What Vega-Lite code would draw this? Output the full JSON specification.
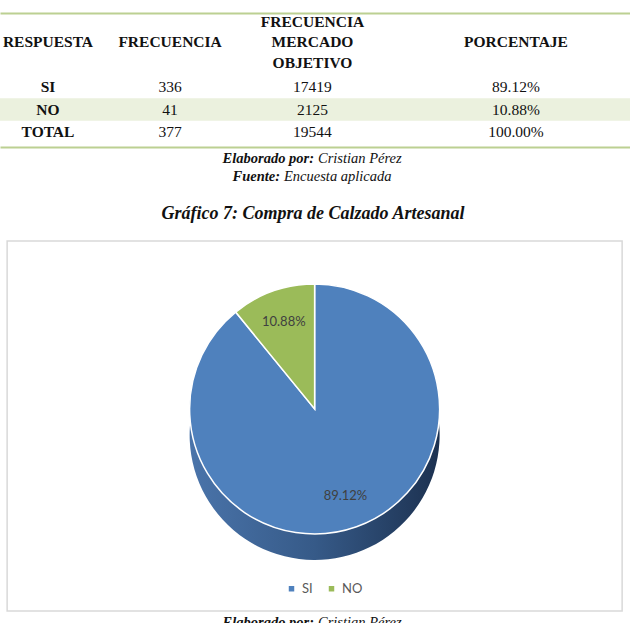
{
  "$schema": "https://vega.github.io/schema/vega-lite/v6.json",
  "background": "white",
  "padding": {"top": 13, "left": 0, "right": 0, "bottom": 0},
  "spacing": 0,
  "center": true,
  "config": {"view": {"stroke": null}, "axis": {"grid": false}},
  "datasets": {
    "tabla": [
      {"fila": "h", "columna": "respuesta", "texto": "RESPUESTA", "negrita": true},
      {"fila": "h", "columna": "frecuencia", "texto": "FRECUENCIA", "negrita": true},
      {"fila": "h", "columna": "mercado", "texto": "FRECUENCIA\nMERCADO\nOBJETIVO", "negrita": true},
      {"fila": "h", "columna": "porcentaje", "texto": "PORCENTAJE", "negrita": true},
      {"fila": "SI", "columna": "respuesta", "texto": "SI", "negrita": true},
      {"fila": "SI", "columna": "frecuencia", "texto": "336", "negrita": false},
      {"fila": "SI", "columna": "mercado", "texto": "17419", "negrita": false},
      {"fila": "SI", "columna": "porcentaje", "texto": "89.12%", "negrita": false},
      {"fila": "NO", "columna": "respuesta", "texto": "NO", "negrita": true},
      {"fila": "NO", "columna": "frecuencia", "texto": "41", "negrita": false},
      {"fila": "NO", "columna": "mercado", "texto": "2125", "negrita": false},
      {"fila": "NO", "columna": "porcentaje", "texto": "10.88%", "negrita": false},
      {"fila": "TOTAL", "columna": "respuesta", "texto": "TOTAL", "negrita": true},
      {"fila": "TOTAL", "columna": "frecuencia", "texto": "377", "negrita": false},
      {"fila": "TOTAL", "columna": "mercado", "texto": "19544", "negrita": false},
      {"fila": "TOTAL", "columna": "porcentaje", "texto": "100.00%", "negrita": false}
    ],
    "franja": [{"fila": "NO"}],
    "notas": [
      {"fila": "l1", "parte": "rotulo", "texto": "Elaborado por:"},
      {"fila": "l1", "parte": "valor", "texto": "Cristian Pérez"},
      {"fila": "l2", "parte": "rotulo", "texto": "Fuente:"},
      {"fila": "l2", "parte": "valor", "texto": "Encuesta aplicada"},
      {"fila": "t", "parte": "titulo", "texto": "Gráfico 7: Compra de Calzado Artesanal"}
    ],
    "pastel": [
      {"respuesta": "SI", "porcentaje": 0.8912},
      {"respuesta": "NO", "porcentaje": 0.1088}
    ],
    "pie": [
      {"fila": "l1", "parte": "rotulo", "texto": "Elaborado por:"},
      {"fila": "l1", "parte": "valor", "texto": "Cristian Pérez"}
    ]
  },
  "vconcat": [
    {
      "width": 630,
      "height": 134,
      "data": {"name": "tabla"},
      "encoding": {
        "y": {"field": "fila", "type": "nominal", "axis": null,
          "scale": {"type": "band", "domain": ["h", "_", "SI", "NO", "TOTAL"], "paddingInner": 0, "paddingOuter": 0.4778, "align": 0.8256}}
      },
      "layer": [
        {
          "data": {"name": "franja"},
          "mark": {"type": "rect", "fill": "#ebf1de"}
        },
        {
          "transform": [{"filter": "!datum.negrita"}],
          "mark": {"type": "text", "font": "Liberation Serif", "fontSize": 15.5, "fill": "#111111"},
          "encoding": {
            "x": {"field": "columna", "type": "nominal",
              "scale": {"type": "point", "domain": ["a1", "a2", "respuesta", "s1", "s2", "s3", "s4", "s5", "frecuencia", "s6", "s7", "s8", "s9", "s10", "s11", "mercado", "s12", "s13", "s14", "s15", "s16", "s17", "s18", "s19", "s20", "porcentaje", "z1", "z2", "z3", "z4", "z5"], "padding": 0.4816, "align": 0.3724},
              "axis": {"orient": "top", "domainColor": "#bcd092", "domainWidth": 2, "labels": false, "ticks": false, "title": null}},
            "text": {"field": "texto"}
          }
        },
        {
          "transform": [{"filter": "datum.negrita && !(datum.fila == 'h' && datum.columna == 'mercado')"}],
          "mark": {"type": "text", "font": "Liberation Serif", "fontSize": 15.5, "fontWeight": "bold", "fill": "#111111"},
          "encoding": {
            "x": {"field": "columna", "type": "nominal",
              "axis": {"orient": "bottom", "domainColor": "#bcd092", "domainWidth": 2, "labels": false, "ticks": false, "title": null}},
            "text": {"field": "texto"}
          }
        },
        {
          "transform": [{"filter": "datum.fila == 'h' && datum.columna == 'mercado'"}],
          "mark": {"type": "text", "font": "Liberation Serif", "fontSize": 15.5, "fontWeight": "bold", "fill": "#111111", "lineBreak": "\n", "lineHeight": 20.5, "dy": -20.5},
          "encoding": {
            "x": {"field": "columna", "type": "nominal", "axis": null},
            "text": {"field": "texto"}
          }
        }
      ],
      "resolve": {"axis": {"x": "independent"}}
    },
    {
      "width": 630,
      "height": 93,
      "data": {"name": "notas"},
      "encoding": {
        "y": {"field": "fila", "type": "nominal", "axis": null,
          "scale": {"type": "band", "domain": ["l1", "l2", "_", "t"], "paddingInner": 0, "paddingOuter": 0.5833, "align": 0.143}},
        "text": {"field": "texto"}
      },
      "layer": [
        {"transform": [{"filter": "datum.fila == 'l1' && datum.parte == 'rotulo'"}],
         "mark": {"type": "text", "align": "right", "dx": -1, "font": "Liberation Serif", "fontSize": 14.5, "fontWeight": "bold", "fontStyle": "italic", "fill": "#111111"}},
        {"transform": [{"filter": "datum.fila == 'l1' && datum.parte == 'valor'"}],
         "mark": {"type": "text", "align": "left", "dx": 3, "font": "Liberation Serif", "fontSize": 14.5, "fontStyle": "italic", "fill": "#111111"}},
        {"transform": [{"filter": "datum.fila == 'l2' && datum.parte == 'rotulo'"}],
         "mark": {"type": "text", "align": "right", "dx": -35, "font": "Liberation Serif", "fontSize": 14.5, "fontWeight": "bold", "fontStyle": "italic", "fill": "#111111"}},
        {"transform": [{"filter": "datum.fila == 'l2' && datum.parte == 'valor'"}],
         "mark": {"type": "text", "align": "left", "dx": -31, "font": "Liberation Serif", "fontSize": 14.5, "fontStyle": "italic", "fill": "#111111"}},
        {"transform": [{"filter": "datum.parte == 'titulo'"}],
         "mark": {"type": "text", "align": "center", "dx": -2, "dy": 1, "font": "Liberation Serif", "fontSize": 18, "fontWeight": "bold", "fontStyle": "italic", "fill": "#111111"}}
      ]
    },
    {
      "width": 615,
      "height": 370,
      "view": {"stroke": "#d9d9d9", "strokeWidth": 1.5},
      "data": {"name": "pastel"},
      "encoding": {
        "theta": {"field": "porcentaje", "type": "quantitative", "stack": true},
        "order": {"field": "respuesta", "type": "nominal", "sort": "descending"}
      },
      "layer": [
        {"mark": {"type": "arc", "radius": 125, "yOffset": 9,
          "fill": {"gradient": "linear", "x1": 0, "y1": 0, "x2": 1, "y2": 0,
            "stops": [{"offset": 0, "color": "#4a74aa"}, {"offset": 0.5, "color": "#365a88"}, {"offset": 1, "color": "#1c3150"}]}}},
        {"mark": {"type": "arc", "radius": 125, "yOffset": -17, "stroke": "white", "strokeWidth": 1.5},
         "encoding": {
           "color": {"field": "respuesta", "type": "nominal",
             "scale": {"domain": ["SI", "NO"], "range": ["#4f81bd", "#9bbb59"]},
             "legend": {"orient": "none", "legendX": 285, "legendY": 569, "direction": "horizontal", "title": null,
               "symbolType": "square", "symbolSize": 30, "symbolStrokeWidth": 0, "labelFont": "Lato", "labelFontSize": 13,
               "labelColor": "#595959", "columnPadding": 12, "labelOffset": 4}}
         }},
        {"mark": {"type": "text", "radius": 92, "yOffset": -17, "font": "Lato", "fontSize": 13, "fill": "#404040"},
         "encoding": {"text": {"field": "porcentaje", "type": "quantitative", "format": ".2%"}}}
      ]
    },
    {
      "width": 630,
      "height": 22,
      "data": {"name": "pie"},
      "encoding": {
        "y": {"field": "fila", "type": "nominal", "axis": null, "scale": {"type": "band", "domain": ["l1"]}},
        "text": {"field": "texto"}
      },
      "layer": [
        {"transform": [{"filter": "datum.parte == 'rotulo'"}],
         "mark": {"type": "text", "align": "right", "dx": -1, "font": "Liberation Serif", "fontSize": 14.5, "fontWeight": "bold", "fontStyle": "italic", "fill": "#111111"}},
        {"transform": [{"filter": "datum.parte == 'valor'"}],
         "mark": {"type": "text", "align": "left", "dx": 3, "font": "Liberation Serif", "fontSize": 14.5, "fontStyle": "italic", "fill": "#111111"}}
      ]
    }
  ]
}
